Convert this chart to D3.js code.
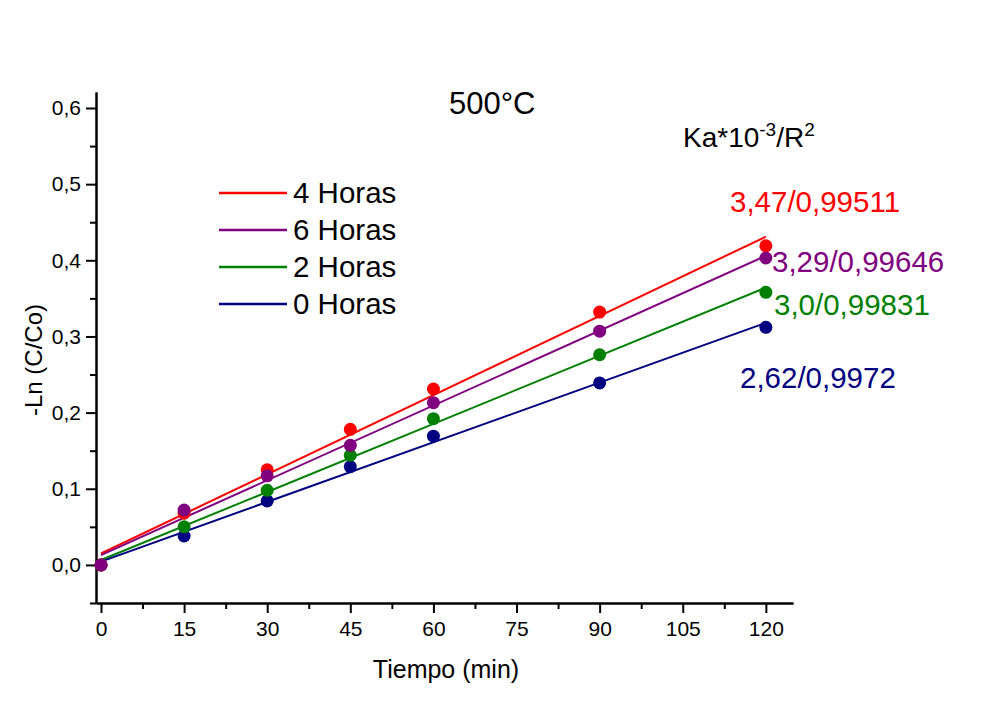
<!DOCTYPE html>
<html>
<head>
<meta charset="utf-8">
<script src="https://cdn.jsdelivr.net/npm/d3@7"></script>
<style>
  body { margin: 0; background: #fff; }
  svg { font-family: Arial, "Liberation Sans", sans-serif; }
</style>
</head>
<body>
<svg width="1002" height="711"></svg>
<script>
// tiempo en minutos
const tiempo = [0, 15, 30, 45, 60, 90, 120]

// -Ln(C/Co) para cada serie
const h4 = [0, 0.068, 0.125, 0.178, 0.231, 0.332, 0.419]
const h6 = [0, 0.072, 0.117, 0.157, 0.213, 0.307, 0.403]
const h2 = [0, 0.050, 0.098, 0.144, 0.192, 0.276, 0.358]
const h0 = [0, 0.038, 0.084, 0.129, 0.169, 0.239, 0.312]

const nombres = ["4 Horas", "6 Horas", "2 Horas", "0 Horas"]
const colores = ["#ff0000", "#800080", "#008000", "#000080"]
const etiquetas = ["3,47/0,99511", "3,29/0,99646", "3,0/0,99831", "2,62/0,9972"]

const xTicks = [0, 15, 30, 45, 60, 75, 90, 105, 120]
const yTicks = [0, 0.1, 0.2, 0.3, 0.4, 0.5, 0.6]

const series = [h4, h6, h2, h0].map((v, i) => ({
  nombre: nombres[i], color: colores[i], etiqueta: etiquetas[i], valores: v
}))

const svg = d3.select("svg")
const fmt = d => d3.format(".1f")(d).replace(".", ",")

const x = d3.scaleLinear().domain([-0.9, 124.9]).range([96, 793])
const y = d3.scaleLinear().domain([-0.05, 0.621]).range([603, 92])

// ajuste lineal por minimos cuadrados
function ajuste(xs, ys) {
  let mx = d3.mean(xs), my = d3.mean(ys)
  let sxy = d3.sum(xs, (d, i) => (d - mx) * (ys[i] - my))
  let sxx = d3.sum(xs, d => (d - mx) * (d - mx))
  let m = sxy / sxx
  return { m: m, b: my - m * mx }
}

// ejes
let ejeX = svg.append("g").attr("transform", "translate(0,603)")
  .call(d3.axisBottom(x).tickValues(xTicks).tickSize(10).tickPadding(8).tickSizeOuter(0))
let ejeY = svg.append("g").attr("transform", "translate(96,0)")
  .call(d3.axisLeft(y).tickValues(yTicks).tickFormat(fmt).tickSize(10).tickPadding(5).tickSizeOuter(0))

// ticks menores
svg.append("g").attr("transform", "translate(0,603)")
  .call(d3.axisBottom(x).tickValues(d3.range(7.5, 121, 15)).tickSize(6).tickFormat("").tickSizeOuter(0))
svg.append("g").attr("transform", "translate(96,0)")
  .call(d3.axisLeft(y).tickValues([-0.05, 0.05, 0.15, 0.25, 0.35, 0.45, 0.55]).tickSize(6).tickFormat("").tickSizeOuter(0))

svg.selectAll(".domain, .tick line").attr("stroke", "#000").attr("stroke-width", 2)
svg.selectAll(".tick text")
  .style("font-size", "21px")
  .style("font-family", "Arial, 'Liberation Sans', sans-serif")
  .attr("fill", "#000")

svg.append("text").attr("x", 446).attr("y", 678).attr("text-anchor", "middle")
  .attr("font-size", 25).text("Tiempo (min)")
svg.append("text").attr("transform", "translate(42,360) rotate(-90)").attr("text-anchor", "middle")
  .attr("font-size", 24).text("-Ln (C/Co)")

// lineas de ajuste
series.forEach(s => {
  let a = ajuste(tiempo, s.valores)
  svg.append("line")
    .attr("x1", x(0)).attr("y1", y(a.b))
    .attr("x2", x(120)).attr("y2", y(a.b + a.m * 120))
    .attr("stroke", s.color).attr("stroke-width", 2)
})

// puntos (morado al final, queda encima)
;[3, 2, 0, 1].forEach(i => {
  let s = series[i]
  svg.append("g").selectAll("circle").data(s.valores).enter().append("circle")
    .attr("cx", (d, j) => x(tiempo[j]))
    .attr("cy", d => y(d))
    .attr("r", 6.5)
    .attr("fill", s.color)
})

// leyenda
let leg = svg.append("g").attr("transform", "translate(219,193)")
series.forEach((s, i) => {
  leg.append("line").attr("x1", 0).attr("x2", 68).attr("y1", i * 37).attr("y2", i * 37)
    .attr("stroke", s.color).attr("stroke-width", 2.5)
  leg.append("text").attr("x", 74).attr("y", i * 37 + 10).attr("font-size", 29.5).text(s.nombre)
})

// titulo
svg.append("text").attr("x", 449).attr("y", 114).attr("font-size", 31).text("500°C")

let ka = svg.append("text").attr("x", 683).attr("y", 147).attr("font-size", 28)
ka.append("tspan").text("Ka*10")
ka.append("tspan").attr("dy", -11).attr("font-size", 19).text("-3")
ka.append("tspan").attr("dy", 11).text("/R")
ka.append("tspan").attr("dy", -11).attr("font-size", 19).text("2")

// etiquetas de pendiente / R2
const etX = [730, 772, 774, 740]
const etY = [212, 272, 315, 388]
series.forEach((s, i) => {
  svg.append("text").attr("x", etX[i]).attr("y", etY[i]).attr("font-size", 29.5)
    .attr("fill", s.color).text(s.etiqueta)
})
</script>
</body>
</html>
